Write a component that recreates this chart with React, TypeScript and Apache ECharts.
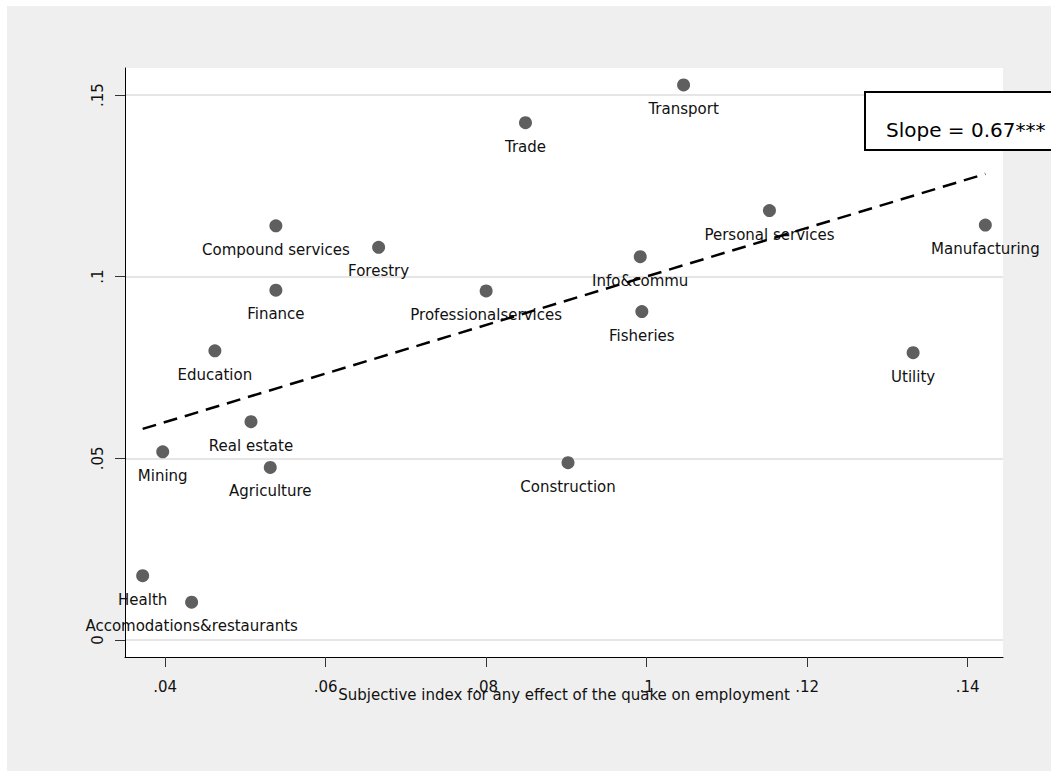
import React, { useEffect, useRef } from "react";
import * as echarts from "echarts";

const sectors = [
  "Transport", "Trade", "Compound services", "Forestry", "Personal services",
  "Manufacturing", "Info&commu", "Finance", "Professionalservices", "Fisheries",
  "Education", "Utility", "Real estate", "Mining", "Agriculture", "Construction",
  "Health", "Accomodations&restaurants",
];
const xValues = [
  0.1046, 0.0849, 0.0538, 0.0666, 0.1153,
  0.1422, 0.0992, 0.0538, 0.0800, 0.0994,
  0.0462, 0.1332, 0.0507, 0.0397, 0.0531, 0.0902,
  0.0372, 0.0433,
];
const yValues = [
  0.1528, 0.1424, 0.1140, 0.1081, 0.1182,
  0.1142, 0.1055, 0.0963, 0.0961, 0.0904,
  0.0796, 0.0791, 0.0601, 0.0518, 0.0475, 0.0488,
  0.0177, 0.0104,
];
const fitX = [0.0372, 0.1422];
const fitY = [0.0581, 0.1283];
const xTicks = [0.04, 0.06, 0.08, 0.1, 0.12, 0.14];
const yTicks = [0, 0.05, 0.1, 0.15];
const xTitle = "Subjective index for any effect of the quake on employment";
const slopeText = "Slope = 0.67***";

const fmt = (v: number) => {
  if (v === 0) return "0";
  const s = String(Math.round(v * 1000) / 1000);
  return s.startsWith("0") ? s.slice(1) : s;
};

const FONT = "'DejaVu Sans', Verdana, sans-serif";

export default function App() {
  const ref = useRef<HTMLDivElement>(null);
  useEffect(() => {
    document.documentElement.style.background = "#efefef";
    document.body.style.background = "#efefef";
    if (!ref.current) return;
    const chart = echarts.init(ref.current, null, { renderer: "svg" });
    chart.setOption({
      animation: false,
      backgroundColor: "transparent",
      grid: { left: 118, top: 62, right: 48, bottom: 114, show: true, backgroundColor: "#ffffff", borderWidth: 0 },
      xAxis: {
        type: "value",
        min: 0.035,
        max: 0.1444,
        name: xTitle,
        nameLocation: "middle",
        nameGap: 30,
        nameMoveOverlap: false,
        nameTextStyle: { fontFamily: FONT, fontSize: 15, color: "#111" },
        axisLine: { onZero: false, lineStyle: { color: "#000", width: 1 } },
        axisTick: { show: true, length: 10, customValues: xTicks, lineStyle: { color: "#333" } },
        axisLabel: {
          customValues: xTicks,
          formatter: (v: number) => fmt(v),
          margin: 22,
          fontFamily: FONT,
          fontSize: 15,
          color: "#111",
        },
        splitLine: { show: false },
      },
      yAxis: {
        type: "value",
        min: -0.00468,
        max: 0.15745,
        axisLine: { show: true, onZero: false, lineStyle: { color: "#000", width: 1 } },
        axisTick: { show: true, length: 10, customValues: yTicks, lineStyle: { color: "#333" } },
        axisLabel: {
          customValues: yTicks,
          formatter: (v: number) => fmt(v),
          rotate: 90,
          margin: 20,
          fontFamily: FONT,
          fontSize: 15,
          color: "#111",
        },
        splitLine: { show: true, lineStyle: { color: "#e6e6e6", width: 2 } },
      },
      series: [
        {
          type: "line",
          data: fitX.map((x, i) => [x, fitY[i]]),
          symbol: "none",
          silent: true,
          lineStyle: { color: "#000", width: 2.5, type: [14, 8] },
          z: 3,
        },
        {
          type: "scatter",
          symbolSize: 13,
          itemStyle: { color: "#5f5f5f", opacity: 1 },
          data: sectors.map((n, i) => ({ name: n, value: [xValues[i], yValues[i]] })),
          label: {
            show: true,
            position: "bottom",
            distance: 10,
            formatter: "{b}",
            fontFamily: FONT,
            fontSize: 15,
            color: "#111",
          },
          z: 2,
        },
      ],
      graphic: [
        {
          type: "rect",
          shape: { x: 858, y: 86, width: 190, height: 58 },
          style: { fill: "#fff", stroke: "#000", lineWidth: 2 },
          z: 10,
        },
        {
          type: "text",
          x: 879,
          y: 124,
          style: {
            text: slopeText,
            fontFamily: FONT,
            fontSize: 20,
            fill: "#000",
            verticalAlign: "middle",
          },
          z: 11,
        },
      ],
    });
    return () => chart.dispose();
  }, []);
  return (
    <div
      style={{
        position: "fixed",
        left: 0,
        top: 0,
        width: 1051,
        height: 771,
        boxSizing: "border-box",
        background: "#efefef",
        borderTop: "6px solid #fff",
        borderLeft: "7px solid #fff",
      }}
    >
      <div ref={ref} style={{ position: "absolute", left: 0, top: 0, width: 1044, height: 765 }} />
    </div>
  );
}
